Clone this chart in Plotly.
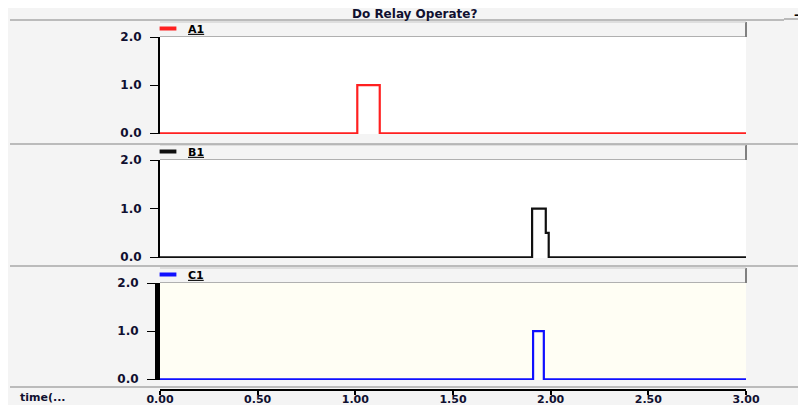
import plotly.graph_objects as go

# ---- data ----
a1_t = [0.0, 1.01, 1.125, 3.0]
a1_v = [0, 1, 0, 0]
b1_t = [0.0, 1.905, 1.975, 1.99, 3.0]
b1_v = [0, 1, 0.5, 0, 0]
c1_t = [0.0, 1.91, 1.965, 3.0]
c1_v = [0, 1, 0, 0]
x_ticks = [0.0, 0.5, 1.0, 1.5, 2.0, 2.5, 3.0]
x_tick_labels = ["0.00", "0.50", "1.00", "1.50", "2.00", "2.50", "3.00"]
y_ticks = [0, 1, 2]
y_tick_labels = ["0.0", "1.0", "2.0"]
title_text = "Do Relay Operate?"
series_names = ["A1", "B1", "C1"]
series_colors = ["#ff2020", "#101010", "#1010ff"]

# page has an 8px body margin; size the figure so it fills the 806x405 window
OFF = 8
W, H = 806 - OFF, 405 - OFF
BG = "#f4f4f4"
FONT = "DejaVu Sans"

def px(x):
    return (x - OFF) / W

def py(y):
    return (H - (y - OFF)) / H

# panel pixel geometry (window coords): (top, bottom)
panels = [(37, 134), (160, 258), (283, 380)]
X0, X1 = 160, 746

fig = go.Figure()
data = [(a1_t, a1_v), (b1_t, b1_v), (c1_t, c1_v)]
for i, ((t, v), name, col) in enumerate(zip(data, series_names, series_colors)):
    sfx = "" if i == 0 else str(i + 1)
    fig.add_trace(go.Scatter(
        x=t, y=v, mode="lines", line=dict(color=col, width=2.2, shape="hv"),
        xaxis="x" + sfx, yaxis="y" + sfx, showlegend=False, hoverinfo="skip"))
    # legend swatch
    fig.add_trace(go.Scatter(
        x=[None], y=[None], mode="markers", name="<u>" + name + "</u>",
        marker=dict(symbol="line-ew", size=12, line=dict(width=4, color=col)),
        xaxis="x" + sfx, yaxis="y" + sfx,
        legend="legend" if i == 0 else "legend" + str(i + 1)))

layout = dict(
    width=W, height=H, margin=dict(l=0, r=0, t=0, b=0, autoexpand=False),
    paper_bgcolor=BG, plot_bgcolor="white",
    font=dict(family=FONT, size=11, color="black"),
    showlegend=True,
)

for i, (top, bot) in enumerate(panels):
    sfx = "" if i == 0 else str(i + 1)
    xa = dict(domain=[px(X0), px(X1)], range=[0, 3], showgrid=False, zeroline=False,
              fixedrange=True, automargin=False)
    if i < 2:
        xa.update(visible=False, anchor="y" + sfx)
    else:
        xa.update(anchor="free", position=py(390), showline=True, linecolor="black",
                  linewidth=2, ticks="outside", ticklen=4, tickwidth=2, tickcolor="black",
                  tickvals=x_ticks, ticktext=x_tick_labels,
                  tickfont=dict(family=FONT, size=11, weight="bold", color="#101030"),
                  ticklabelstandoff=-5)
    ya = dict(domain=[py(bot), py(top)], range=[-0.015, 2.0], showgrid=False, zeroline=False,
              anchor="x" + sfx, showline=True, linecolor="black",
              linewidth=5 if i == 2 else 2, automargin=False,
              ticks="outside", ticklen=8, tickwidth=1, tickcolor="black",
              tickvals=y_ticks, ticktext=y_tick_labels, ticklabelstandoff=6,
              tickfont=dict(family=FONT, size=12, weight="bold", color="#101030"),
              fixedrange=True)
    layout["xaxis" + sfx] = xa
    layout["yaxis" + sfx] = ya
    lg = dict(x=px(156), y=py(top - 23), xanchor="left", yanchor="top",
              bgcolor="rgba(0,0,0,0)", borderwidth=0, itemwidth=30,
              font=dict(family=FONT, size=11, weight="bold"),
              tracegroupgap=0, indentation=-8)
    layout["legend" if i == 0 else "legend" + str(i + 1)] = lg

fig.update_layout(**layout)

shapes = []
# cream background for panel 3
shapes.append(dict(type="rect", xref="paper", yref="paper", layer="below",
                   x0=px(X0), x1=px(X1), y0=py(380), y1=py(283),
                   fillcolor="#fffef4", line=dict(width=0)))
for (top, bot) in panels:
    ht = top - 15
    shapes.append(dict(type="line", xref="paper", yref="paper",
                       x0=px(X0), x1=px(X1), y0=py(top - 0.5), y1=py(top - 0.5),
                       line=dict(color="#b0b0b0", width=1)))
    shapes.append(dict(type="line", xref="paper", yref="paper",
                       x0=px(X1), x1=px(X1), y0=py(ht), y1=py(top),
                       line=dict(color="#808080", width=2)))
    shapes.append(dict(type="line", xref="paper", yref="paper",
                       x0=px(X0), x1=px(X1), y0=py(ht), y1=py(ht),
                       line=dict(color="#c8c8c8", width=1)))
# separators
for y in [144, 266, 387]:
    shapes.append(dict(type="line", xref="paper", yref="paper",
                       x0=px(10), x1=1, y0=py(y), y1=py(y),
                       line=dict(color="#a8a8a8", width=1.5)))
shapes.append(dict(type="line", xref="paper", yref="paper",
                   x0=px(10), x1=px(784), y0=py(20), y1=py(20),
                   line=dict(color="#a8a8a8", width=1.5)))
shapes.append(dict(type="line", xref="paper", yref="paper",
                   x0=px(784), x1=1, y0=py(19), y1=py(19),
                   line=dict(color="#808080", width=1)))
fig.update_layout(shapes=shapes)

fig.add_annotation(text="<b>" + title_text + "</b>", xref="paper", yref="paper",
                   x=px(414), y=py(14), showarrow=False,
                   font=dict(family=FONT, size=12, color="#101030"),
                   xanchor="center", yanchor="middle")
fig.add_annotation(text="<b>–</b>", xref="paper", yref="paper", x=px(797), y=py(15),
                   showarrow=False, font=dict(family=FONT, size=12, color="black"),
                   xanchor="center", yanchor="middle")
fig.add_annotation(text="<b>time(...</b>", xref="paper", yref="paper", x=px(18), y=py(397),
                   showarrow=False, font=dict(family=FONT, size=11, color="#101030"),
                   xanchor="left", yanchor="middle")

fig.write_html("out.html")
